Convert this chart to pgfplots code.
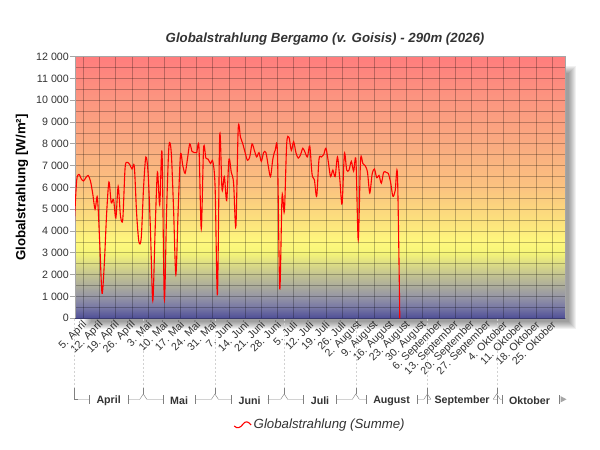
\documentclass[border=0pt]{standalone}
\usepackage{pgfplots}
\pgfplotsset{compat=1.18}
\usepackage{fontspec}
\setmainfont{Liberation Sans}
\definecolor{txt}{RGB}{51,51,51}
\definecolor{c0}{RGB}{78,78,150}
\definecolor{c05}{RGB}{120,120,165}
\definecolor{c1}{RGB}{150,150,165}
\definecolor{c2}{RGB}{195,195,145}
\definecolor{c3}{RGB}{245,245,120}
\definecolor{c35}{RGB}{255,248,125}
\definecolor{c45}{RGB}{252,225,125}
\definecolor{c6}{RGB}{251,195,128}
\definecolor{c8}{RGB}{250,170,128}
\definecolor{c10}{RGB}{252,150,128}
\definecolor{c12}{RGB}{255,125,125}
\pgfdeclareverticalshading{bgshade}{100bp}{color(0bp)=(c0); color(25bp)=(c0); color(27.08bp)=(c05); color(29.17bp)=(c1); color(33.33bp)=(c2); color(37.5bp)=(c3); color(39.58bp)=(c35); color(43.75bp)=(c45); color(50bp)=(c6); color(58.33bp)=(c8); color(66.67bp)=(c10); color(75bp)=(c12); color(100bp)=(c12)}

\pgfplotstableread{
d v
0 4300
1 6300
2 6600
3 6400
4 6300
5 6450
6 6550
7 6300
8 5700
9 5000
10 5550
11 3500
12 1150
13 2500
14 4800
15 6250
16 5300
17 5450
18 4600
19 6050
20 4700
21 4550
22 6900
23 7150
24 7050
25 6850
26 6950
27 4800
28 3500
29 3700
30 6000
31 7400
32 6600
33 4000
34 800
35 4000
36 6700
37 5200
38 7600
39 850
40 5000
41 7900
42 7600
43 5000
44 2000
45 5000
46 7500
47 7000
48 6650
49 7300
50 8000
51 7650
52 7600
53 7600
54 7850
55 4100
56 7800
57 7350
58 7300
59 7100
60 7200
61 6000
62 1100
63 8400
64 5900
65 6500
66 5400
67 7300
68 6700
69 6200
70 4200
71 8700
72 8300
73 8000
74 7600
75 7250
76 7400
77 8000
78 7700
79 7400
80 7600
81 7200
82 7600
83 7600
84 7000
85 6500
86 7300
87 7700
88 7600
89 1350
90 5600
91 4900
92 8000
93 8300
94 7700
95 8100
96 7600
97 7350
98 7500
99 7800
100 7600
101 7400
102 7900
103 6600
104 6350
105 5600
106 7300
107 7400
108 7500
109 7800
110 7200
111 6500
112 6800
113 6500
114 7400
115 6400
116 5250
117 7550
118 6800
119 6800
120 7200
121 6750
122 7250
123 3600
124 7250
125 7100
126 7000
127 6700
128 5750
129 6600
130 6850
131 6450
132 6550
133 6200
134 6700
135 6700
136 6650
137 6250
138 5600
139 5850
140 6550
141 0
}\globaldata

\begin{document}
\begin{tikzpicture}[x=1bp,y=1bp]
\useasboundingbox (0,0) rectangle (600,450);
\fill[white] (0,0) rectangle (600,450);
% drop shadow
\foreach \i in {0,...,7} {\fill[black,opacity=0.055] ({84+\i},{121+\i}) rectangle ({576-\i},{384-\i});}
\shade[shading=bgshade] (75,131.7) rectangle (565.3,393.3);
\begin{axis}[
  at={(75bp,131.7bp)}, anchor=south west, scale only axis,
  width=490.3bp, height=261.6bp,
  xmin=0.3, xmax=212.7, ymin=0, ymax=12000,
  axis lines*=left,
  x axis line style={draw=none},
  y axis line style={draw=gray!70, line width=0.8bp},
  xtick={4,11,...,207},
  xticklabels={5. April,12. April,19. April,26. April,3. Mai,10. Mai,17. Mai,24. Mai,31. Mai,7. Juni,14. Juni,21. Juni,28. Juni,5. Juli,12. Juli,19. Juli,26. Juli,2. August,9. August,16. August,23. August,30. August,6. September,13. September,20. September,27. September,4. Oktober,11. Oktober,18. Oktober,25. Oktober},
  xtick style={draw=none},
  ytick={0,1000,...,12000},
  minor ytick={500,1500,...,11500},
  scaled y ticks=false,
  ytick style={draw=gray!70, line width=0.8bp},
  tick align=outside, major tick length=5bp, minor tick length=0pt,
  xmajorgrids, ymajorgrids, yminorgrids,
  major grid style={black, opacity=0.26, line width=0.8bp},
  minor grid style={black, opacity=0.26, line width=0.8bp},
  tick label style={font=\fontsize{10.7}{12}\selectfont, text=txt},
  xticklabel style={rotate=45, anchor=east, inner sep=0.5bp, xshift=2bp, yshift=-1bp},
  yticklabel style={inner sep=1bp},
  /pgf/number format/1000 sep={\ },
  /pgf/number format/assume math mode=true,
  legend style={at={(0.5,-0.404)}, anchor=center, draw=none, fill=none, font=\itshape\fontsize{13.3}{15}\selectfont, text=txt},
  legend image code/.code={\draw[#1, line width=1.1bp] (0bp,-2bp) .. controls (3bp,-5bp) and (6bp,-4bp) .. (9bp,0bp) .. controls (11bp,3bp) and (14bp,3bp) .. (17bp,-1bp);},
]
\addplot[red, line width=1.1bp, smooth] table[x=d, y=v] {\globaldata};
\addlegendentry{Globalstrahlung (Summe)}
\end{axis}
\draw[gray!70, line width=0.8bp] (75,393.3) -- (565.3,393.3) -- (565.3,131.7);
% title and y label
\node[font=\bfseries\itshape\fontsize{13.3}{16}\selectfont, text=txt] at (325,410.5) {Globalstrahlung Bergamo (v. Goisis) - 290m (2026)};
\node[rotate=90, font=\bfseries\fontsize{13.3}{16}\selectfont, text=black] at (22,262.5) {Globalstrahlung [W/m²]};
% month axis
\def\ly{50.7}
\foreach \b in {74,143.3,214.9,284.2,355.8,427.4,496.7} {\draw[gray!35, dash pattern=on 2bp off 2bp] (\b,131) -- (\b,62);}
\draw[gray] (74,62) -- (74,\ly) -- (77.5,\ly);
\foreach \b in {143.3,214.9,284.2,355.8,427.4,496.7} {\draw[gray] (\b-3.5,\ly) -- (\b,56) -- (\b+3.5,\ly); \draw[gray] (\b,56) -- (\b,62);}
\foreach \a/\b/\n in {74/143.3/April,143.3/214.9/Mai,214.9/284.2/Juni,284.2/355.8/Juli,355.8/427.4/August,427.4/496.7/September} {
  \node[font=\bfseries\fontsize{10.7}{12}\selectfont, text=txt, inner sep=0pt] (m) at ({(\a+\b)/2},49) {\n};
  \draw[gray] ([xshift=-7bp,yshift=-3bp]m.west) -- ([xshift=-7bp,yshift=6bp]m.west);
  \draw[gray] ([xshift=7bp,yshift=-3bp]m.east) -- ([xshift=7bp,yshift=6bp]m.east);
  \draw[gray] ([xshift=-7bp,yshift=1.7bp]m.west) -- (\a+3.5,\ly);
  \draw[gray] ([xshift=7bp,yshift=1.7bp]m.east) -- (\b-3.5,\ly);
}
\node[font=\bfseries\fontsize{10.7}{12}\selectfont, text=txt, inner sep=0pt] (m) at (529.5,49) {Oktober};
\draw[gray] ([xshift=-7bp,yshift=-3bp]m.west) -- ([xshift=-7bp,yshift=6bp]m.west);
\draw[gray] ([xshift=-7bp,yshift=1.7bp]m.west) -- (500.2,\ly);
\draw[gray] (558.7,46) -- (558.7,55);
\fill[gray!70] (560.5,47.5) -- (566.5,50.7) -- (560.5,53.9) -- cycle;
\end{tikzpicture}
\end{document}
